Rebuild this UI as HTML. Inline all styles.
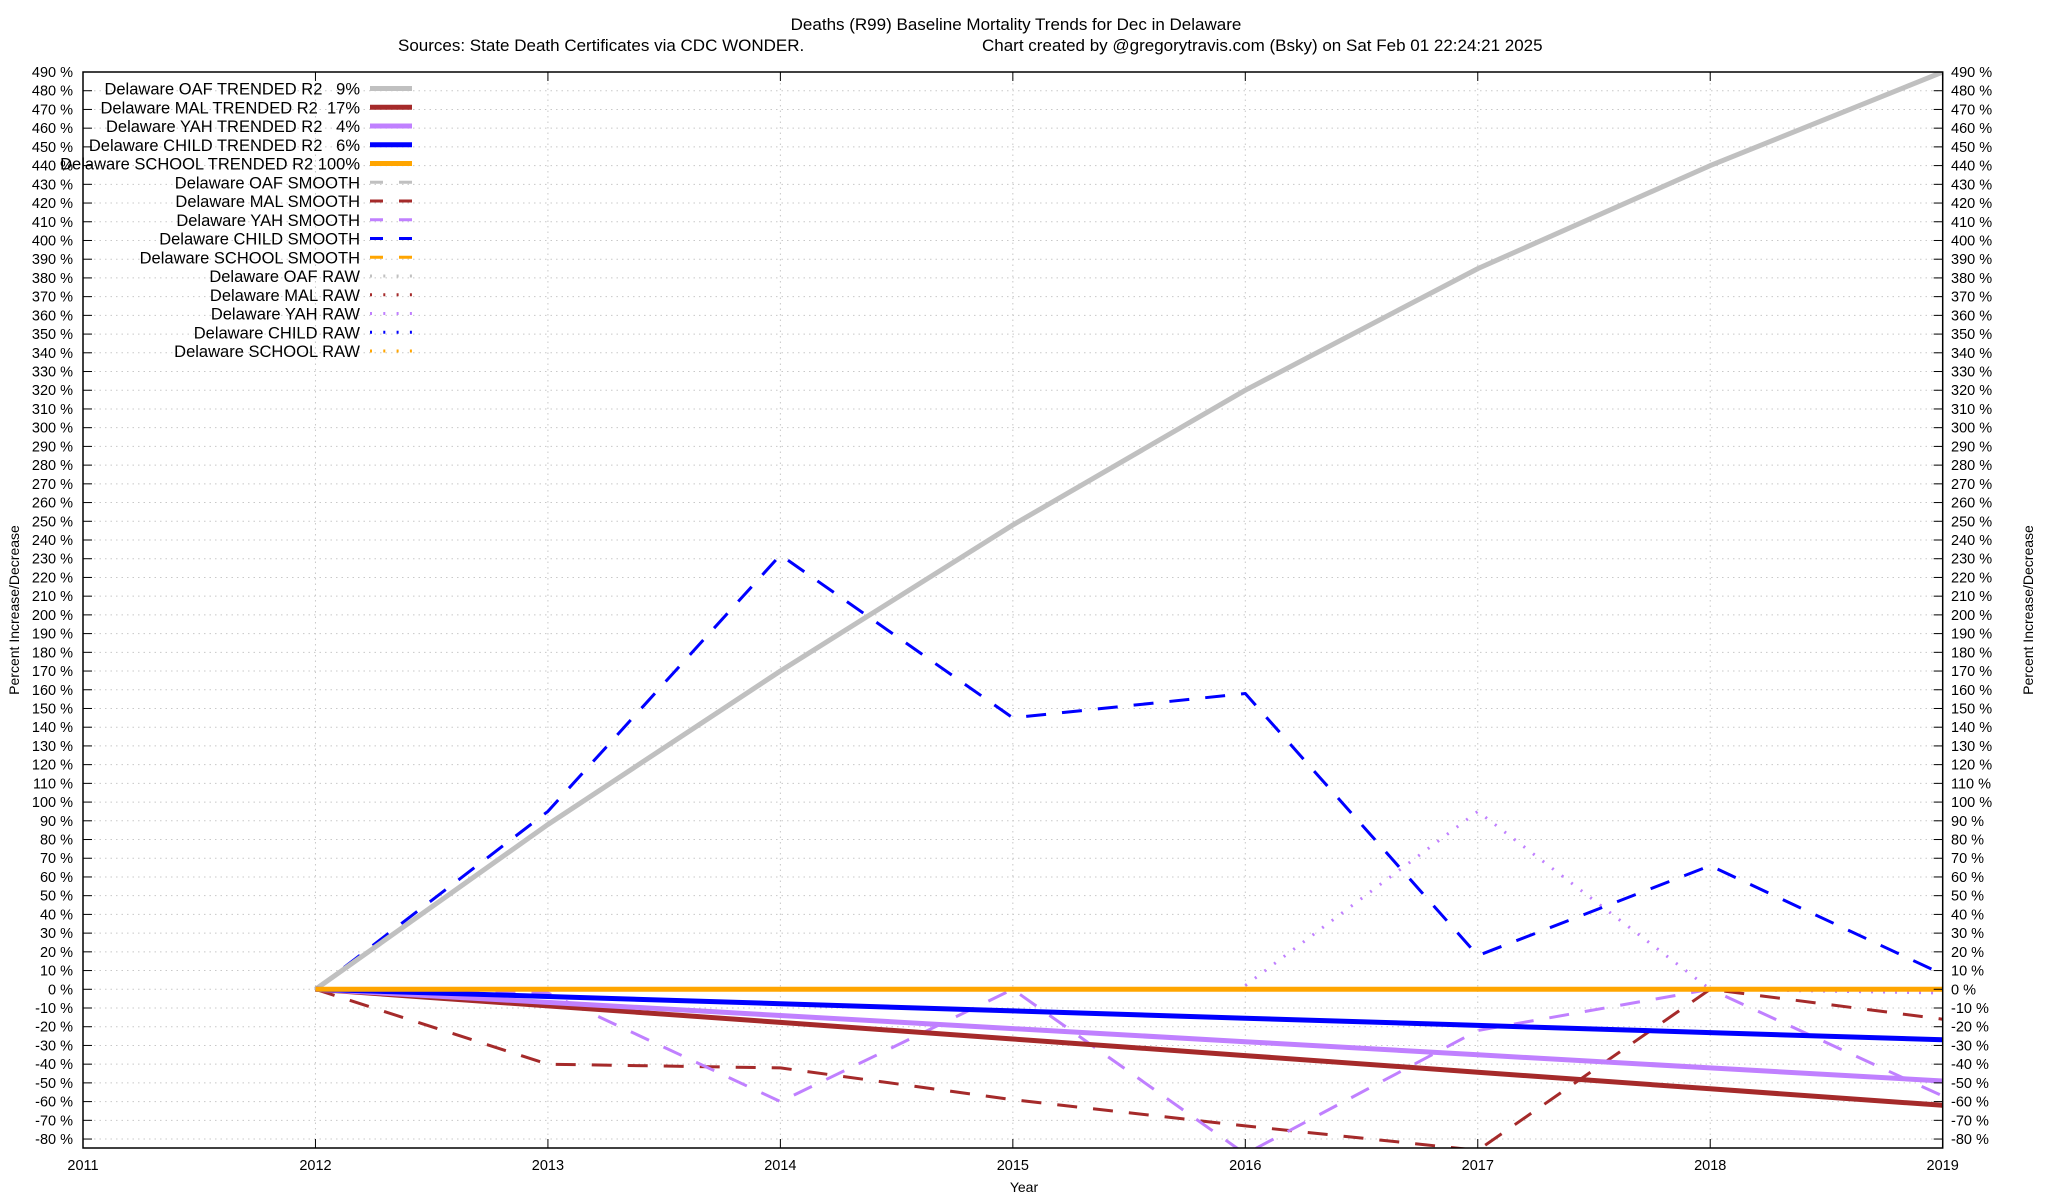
<!DOCTYPE html>
<html><head><meta charset="utf-8"><style>
html,body{margin:0;padding:0;background:#fff;width:2048px;height:1200px;overflow:hidden}
svg{display:block}
text{font-family:"Liberation Sans",sans-serif;fill:#000}
</style></head><body>
<svg id="s" width="2048" height="1200" xmlns="http://www.w3.org/2000/svg">
<defs><clipPath id="c"><rect x="83" y="72" width="1860" height="1076"/></clipPath></defs>
<g id="grid"></g>
<g id="series" clip-path="url(#c)"></g>
<rect x="83" y="72" width="1859.7" height="1076" fill="none" stroke="#000" stroke-width="1.5"/>
<g id="ticks"></g>
<g id="legend"></g>
<text x="1016" y="30" font-size="17" text-anchor="middle">Deaths (R99)  Baseline Mortality Trends for Dec in Delaware</text>
<text x="398" y="51" font-size="17">Sources: State Death Certificates via CDC WONDER.</text>
<text x="982" y="51" font-size="17">Chart created by @gregorytravis.com (Bsky) on Sat Feb 01 22:24:21 2025</text>
<text x="19" y="610" font-size="14" text-anchor="middle" transform="rotate(-90 19 610)">Percent Increase/Decrease</text>
<text x="2033" y="610" font-size="14" text-anchor="middle" transform="rotate(-90 2033 610)">Percent Increase/Decrease</text>
<text x="1024" y="1192" font-size="14" text-anchor="middle">Year</text>
</svg>
<script>
const NS="http://www.w3.org/2000/svg";
function X(yr){return 83+(yr-2011)*232.46;}
function Y(v){return 72+(490-v)*1.872;}
function el(p,t,a,txt){const e=document.createElementNS(NS,t);for(const k in a)e.setAttribute(k,a[k]);if(txt!==undefined)e.textContent=txt;document.getElementById(p).appendChild(e);return e;}
for(let v=490;v>=-80;v-=10){const y=Y(v);
 if(v!==490) el("grid","line",{x1:83,x2:1942.7,y1:y,y2:y,stroke:"#c8c8c8","stroke-width":1,"stroke-dasharray":"1.5,4"});
 el("ticks","line",{x1:83,x2:92,y1:y,y2:y,stroke:"#000","stroke-width":1});
 el("ticks","line",{x1:1933.7,x2:1942.7,y1:y,y2:y,stroke:"#000","stroke-width":1});
 el("ticks","text",{x:73,y:y+5,"font-size":14.5,"text-anchor":"end"},v+" %");
 el("ticks","text",{x:1951,y:y+5,"font-size":14.5},v+" %");
}
for(let yr=2011;yr<=2019;yr++){const x=X(yr);
 if(yr>2011&&yr<2019) el("grid","line",{x1:x,x2:x,y1:72,y2:1148,stroke:"#c8c8c8","stroke-width":1,"stroke-dasharray":"1.5,4"});
 el("ticks","line",{x1:x,x2:x,y1:1148,y2:1139,stroke:"#000","stroke-width":1});
 el("ticks","line",{x1:x,x2:x,y1:72,y2:81,stroke:"#000","stroke-width":1});
 el("ticks","text",{x:x,y:1170,"font-size":14.5,"text-anchor":"middle"},String(yr));
}
function line(data,color,w,dash,start){start=start||0;let d="";data.forEach((v,i)=>{d+=(i?"L":"M")+X(2012+start+i).toFixed(1)+","+Y(v).toFixed(1);});
 const a={d:d,fill:"none",stroke:color,"stroke-width":w,"stroke-linejoin":"round"};if(dash)a["stroke-dasharray"]=dash;el("series","path",a);}
const gray="#c0c0c0",mal="#a52a2a",yah="#c080ff",ch="#0000ff",sc="#ffa500";
function lin(e){return [0,1,2,3,4,5,6,7].map(i=>e*i/7);}
line([2,95,0,-2],yah,3,"2,10",4);
line([0,95,232,145,158,18,66,8],ch,3,"20,16");
line([0,-40,-42,-59,-73,-86,0,-16],mal,3,"20,16");
line([0,-2,-60,0,-88,-22,0,-57],yah,3,"20,16");
line([0,88,170,248,320,385,440,490],gray,5);
line(lin(-62),mal,5);
line(lin(-49),yah,5);
line(lin(-27),ch,5);
line(lin(0),sc,5);
const L=[["Delaware OAF TRENDED R2   9%",gray,"s"],["Delaware MAL TRENDED R2  17%",mal,"s"],["Delaware YAH TRENDED R2   4%",yah,"s"],["Delaware CHILD TRENDED R2   6%",ch,"s"],["Delaware SCHOOL TRENDED R2 100%",sc,"s"],
["Delaware OAF SMOOTH",gray,"d"],["Delaware MAL SMOOTH",mal,"d"],["Delaware YAH SMOOTH",yah,"d"],["Delaware CHILD SMOOTH",ch,"d"],["Delaware SCHOOL SMOOTH",sc,"d"],
["Delaware OAF RAW",gray,"o"],["Delaware MAL RAW",mal,"o"],["Delaware YAH RAW",yah,"o"],["Delaware CHILD RAW",ch,"o"],["Delaware SCHOOL RAW",sc,"o"]];
L.forEach((r,i)=>{const y=88.5+i*18.75;
 const t=el("legend","text",{x:360,y:y+6,"font-size":16.5,"text-anchor":"end"},r[0]);t.setAttribute("xml:space","preserve");t.style.whiteSpace="pre";
 const a={x1:370,x2:412,y1:y,y2:y,stroke:r[1],"stroke-width":r[2]=="s"?5:3};
 if(r[2]=="d")a["stroke-dasharray"]="13,16";if(r[2]=="o")a["stroke-dasharray"]="2,11.3";
 el("legend","line",a);});
</script>
</body></html>
